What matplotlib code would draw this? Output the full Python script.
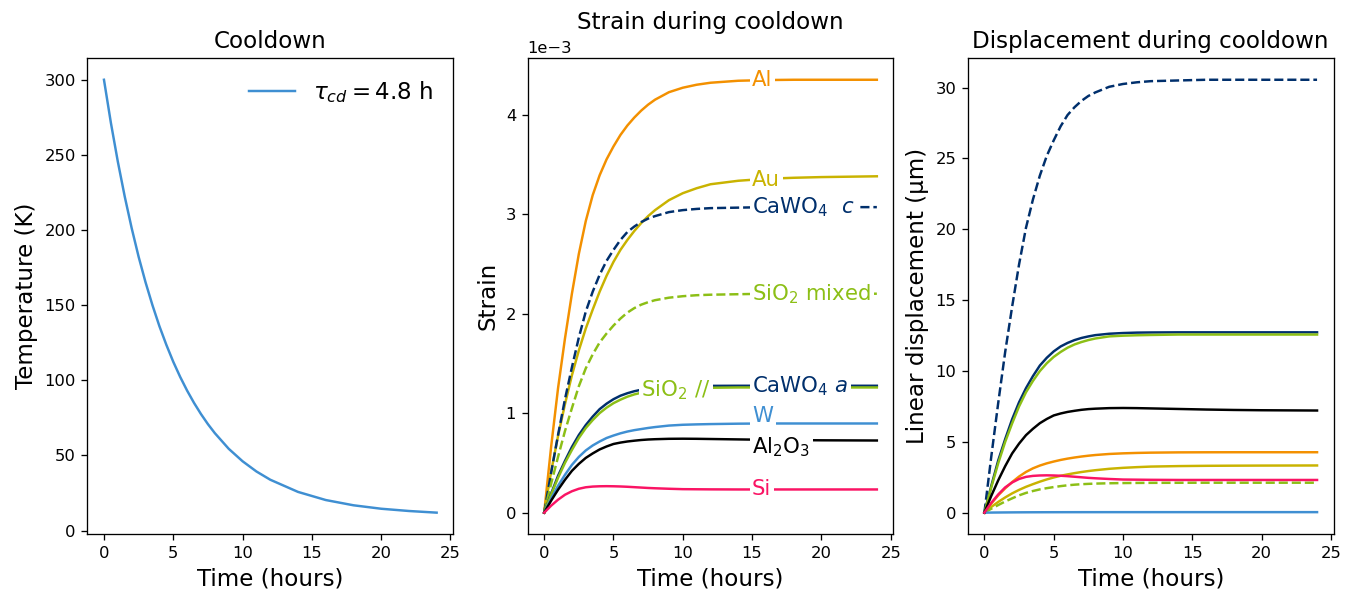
import numpy as np
import matplotlib.pyplot as plt

# time samples (hours)
t_hours = [0, 0.5, 1, 1.5, 2, 2.5, 3, 3.5, 4, 4.5, 5, 5.5, 6, 6.5, 7, 7.5, 8, 9, 10, 11,
           12, 14, 16, 18, 20, 22, 24]

# cooldown temperature (K)
temperature_K = [300, 271.3, 245.5, 222.2, 201.2, 182.2, 165.2, 149.9, 136.0, 123.6,
                 112.3, 102.2, 93.1, 84.9, 77.5, 70.8, 64.8, 54.4, 46.1, 39.3,
                 33.8, 25.7, 20.3, 16.8, 14.5, 13.0, 11.9]

# strain in units of 1e-3
strain_Al = [0, 0.66, 1.25, 1.75, 2.20, 2.60, 2.93, 3.19, 3.39, 3.55,
             3.68, 3.795, 3.89, 3.97, 4.04, 4.10, 4.15, 4.225, 4.27, 4.30,
             4.32, 4.34, 4.347, 4.35, 4.35, 4.35, 4.35]
strain_Au = [0, 0.41, 0.77, 1.09, 1.38, 1.63, 1.85, 2.04, 2.22, 2.38,
             2.52, 2.64, 2.74, 2.83, 2.91, 2.98, 3.04, 3.14, 3.21, 3.26,
             3.30, 3.335, 3.355, 3.365, 3.372, 3.376, 3.38]
strain_CaWO4_c = [0, 0.40, 0.78, 1.14, 1.46, 1.76, 2.02, 2.22, 2.39, 2.53,
                  2.64, 2.74, 2.82, 2.875, 2.92, 2.955, 2.98, 3.02, 3.04, 3.052,
                  3.06, 3.065, 3.07, 3.07, 3.07, 3.07, 3.07]
strain_SiO2_mixed = [0, 0.29, 0.56, 0.82, 1.05, 1.27, 1.45, 1.59, 1.71, 1.80,
                     1.88, 1.95, 2.01, 2.055, 2.09, 2.115, 2.135, 2.16, 2.175, 2.185,
                     2.19, 2.195, 2.20, 2.20, 2.20, 2.20, 2.20]
strain_CaWO4_a = [0, 0.19, 0.37, 0.52, 0.66, 0.78, 0.88, 0.965, 1.04, 1.095,
                  1.14, 1.175, 1.20, 1.22, 1.235, 1.246, 1.255, 1.265, 1.27, 1.273,
                  1.274, 1.275, 1.275, 1.275, 1.275, 1.275, 1.275]
strain_SiO2_par = [0, 0.18, 0.35, 0.50, 0.63, 0.75, 0.85, 0.93, 1.00, 1.055,
                   1.10, 1.135, 1.165, 1.188, 1.205, 1.219, 1.23, 1.245, 1.25, 1.253,
                   1.255, 1.258, 1.258, 1.258, 1.258, 1.258, 1.258]
strain_W = [0, 0.14, 0.27, 0.38, 0.48, 0.56, 0.625, 0.675, 0.715, 0.75,
            0.775, 0.797, 0.815, 0.829, 0.84, 0.851, 0.86, 0.875, 0.883, 0.887,
            0.89, 0.894, 0.896, 0.896, 0.896, 0.896, 0.896]
strain_Al2O3 = [0, 0.12, 0.23, 0.33, 0.42, 0.49, 0.55, 0.595, 0.635, 0.665,
                0.69, 0.704, 0.715, 0.723, 0.73, 0.735, 0.738, 0.742, 0.743, 0.742,
                0.740, 0.736, 0.732, 0.729, 0.727, 0.726, 0.725]
strain_Si = [0, 0.07, 0.13, 0.18, 0.215, 0.24, 0.255, 0.262, 0.265, 0.266,
             0.265, 0.263, 0.26, 0.256, 0.252, 0.248, 0.245, 0.24, 0.236, 0.235,
             0.234, 0.233, 0.233, 0.233, 0.233, 0.233, 0.233]

# sample length (mm) -> displacement in um = strain(1e-3) * length(mm)
length_mm = {'Al': 0.98, 'Au': 0.985, 'CaWO4 c': 9.95, 'SiO2 mixed': 0.96,
             'CaWO4 a': 9.98, 'SiO2 //': 9.99, 'W': 0.04, 'Al2O3': 9.94, 'Si': 9.9}

navy = '#002f6c'
green = '#8cbf16'
blue = '#3f8fd2'

# name: (data, label, color, linestyle, label x, label y shift in 1e-3)
curves = {
    'Al': (strain_Al, 'Al', '#f39000', '-', 15, 0),
    'Au': (strain_Au, 'Au', '#c9b300', '-', 15, 0),
    'CaWO4 c': (strain_CaWO4_c, r'CaWO$_4$  $c$', navy, '--', 15, 0),
    'SiO2 mixed': (strain_SiO2_mixed, r'SiO$_2$ mixed', green, '--', 15, 0),
    'CaWO4 a': (strain_CaWO4_a, r'CaWO$_4$ $a$', navy, '-', 15, 0),
    'SiO2 //': (strain_SiO2_par, r'SiO$_2$ //', green, '-', 7, 0.03),
    'W': (strain_W, 'W', blue, '-', 15, 0.075),
    'Al2O3': (strain_Al2O3, r'Al$_2$O$_3$', 'black', '-', 15, -0.075),
    'Si': (strain_Si, 'Si', '#fa1464', '-', 15, 0),
}

t = np.array(t_hours)

fig, axes = plt.subplots(1, 3, figsize=(1354 / 118, 593 / 118), dpi=118)
fig.subplots_adjust(left=0.0645, right=0.985, bottom=0.099, top=0.902, wspace=0.203)

# Cooldown
ax = axes[0]
ax.plot(t, temperature_K, color=blue, label=r'$\tau_{cd} = 4.8$ h')
ax.set_title('Cooldown', fontsize=14)
ax.set_xlabel('Time (hours)', fontsize=14)
ax.set_ylabel('Temperature (K)', fontsize=14)
ax.legend(loc='upper right', frameon=False, fontsize=14)

# Strain
ax = axes[1]
for name, (vals, lab, col, ls, lx, dy) in curves.items():
    s = np.array(vals) * 1e-3
    ax.plot(t, s, color=col, linestyle=ls)
    ly = np.interp(lx, t, s) + dy * 1e-3
    ax.text(lx, ly, lab, color=col, fontsize=13, ha='left', va='center', zorder=10,
            bbox=dict(facecolor='white', edgecolor='none', pad=1.5))
ax.ticklabel_format(axis='y', style='sci', scilimits=(-3, -3))
ax.set_title('Strain during cooldown', fontsize=14, pad=18)
ax.set_xlabel('Time (hours)', fontsize=14)
ax.set_ylabel('Strain', fontsize=14)

# Displacement
ax = axes[2]
for name, (vals, lab, col, ls, lx, dy) in curves.items():
    d = np.array(vals) * length_mm[name]
    ax.plot(t, d, color=col, linestyle=ls)
ax.set_title('Displacement during cooldown', fontsize=14)
ax.set_xlabel('Time (hours)', fontsize=14)
ax.set_ylabel('Linear displacement (\u03bcm)', fontsize=14)

for ax in axes:
    ax.set_xticks([0, 5, 10, 15, 20, 25])

plt.savefig('out.png', dpi=118)
